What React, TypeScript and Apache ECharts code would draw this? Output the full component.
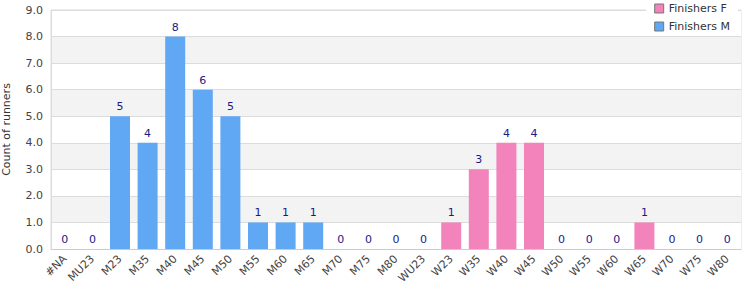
import React, { useEffect, useRef } from "react";
import * as echarts from "echarts";

const categories = ["#NA","MU23","M23","M35","M40","M45","M50","M55","M60","M65","M70","M75","M80","WU23","W23","W35","W40","W45","W50","W55","W60","W65","W70","W75","W80"];
const finishersM = [0,0,5,4,8,6,5,1,1,1,0,0,0,0,null,null,null,null,null,null,null,null,null,null,null];
const finishersF = [null,null,null,null,null,null,null,null,null,null,null,null,null,null,1,3,4,4,0,0,0,1,0,0,0];

export default function App() {
  const ref = useRef<HTMLDivElement>(null);
  useEffect(() => {
    const chart = echarts.init(ref.current!, null, { renderer: "svg" });
    const font = "DejaVu Sans";
    const label = { show: true, position: "top", distance: 4, color: "#1a1a8a", fontFamily: font, fontSize: 11 };
    chart.setOption({
      animation: false,
      textStyle: { fontFamily: font },
      grid: { left: 51, right: 9, top: 10, bottom: 51, show: true, borderColor: "#dcdcdc", borderWidth: 1, containLabel: false, outerBoundsMode: "none" },
      legend: {
        orient: "vertical", right: 12, top: 0, itemWidth: 9, itemHeight: 9, itemGap: 7, icon: "rect",
        backgroundColor: "#fff", padding: [3, 8, 3, 8],
        textStyle: { color: "#333", fontSize: 11, fontFamily: font },
        data: [
          { name: "Finishers F", itemStyle: { borderColor: "#777", borderWidth: 1 } },
          { name: "Finishers M", itemStyle: { borderColor: "#777", borderWidth: 1 } },
        ],
      },
      xAxis: {
        type: "category", data: categories,
        axisLine: { lineStyle: { color: "#cccccc" } },
        axisTick: { show: false },
        axisLabel: { rotate: 45, interval: 0, color: "#444", fontSize: 11, fontFamily: font, margin: 8 },
      },
      yAxis: {
        type: "value", min: 0, max: 9, interval: 1,
        name: "Count of runners", nameLocation: "middle", nameGap: 39,
        nameTextStyle: { color: "#333", fontSize: 11, fontFamily: font },
        axisLine: { show: true, lineStyle: { color: "#dcdcdc" } },
        axisLabel: { color: "#444", fontSize: 11, fontFamily: font, formatter: (v: number) => v.toFixed(1) },
        splitLine: { lineStyle: { color: "#dcdcdc" } },
        splitArea: { show: true, areaStyle: { color: ["#ffffff", "#f3f3f3"] } },
      },
      series: [
        { name: "Finishers F", type: "bar", stack: "a", data: finishersF, barWidth: 20, itemStyle: { color: "#f383bb" }, label },
        { name: "Finishers M", type: "bar", stack: "a", data: finishersM, barWidth: 20, itemStyle: { color: "#60a8f4" }, label },
      ],
    });
    return () => chart.dispose();
  }, []);
  return <div ref={ref} style={{ width: 750, height: 300, position: "absolute", left: 0, top: 0 }} />;
}
